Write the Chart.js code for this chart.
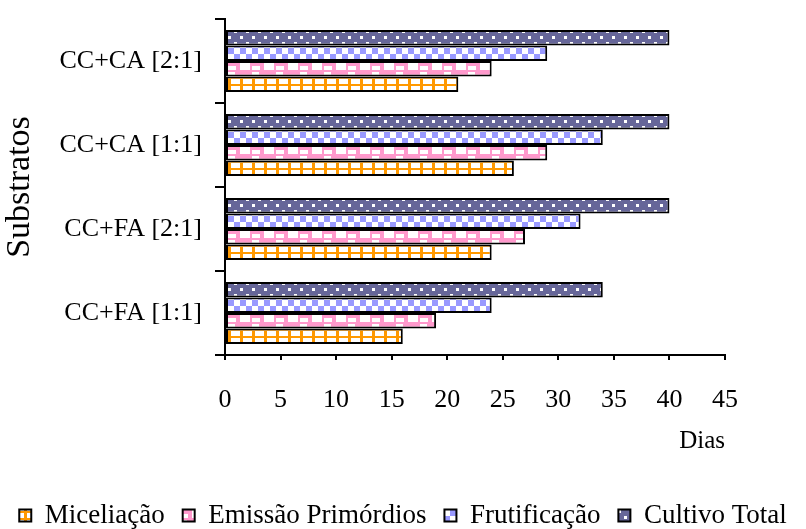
<!DOCTYPE html>
<html>
<head>
<meta charset="utf-8">
<script src="https://cdn.jsdelivr.net/npm/chart.js@4/dist/chart.umd.min.js"></script>
<style>
  body { margin: 0; background: #fff; }
  canvas { display: block; }
</style>
</head>
<body>
<canvas id="chart" width="806" height="529"></canvas>
<script>
// Substratos (top to bottom) and days per phase
const categories = ["CC+CA [2:1]", "CC+CA [1:1]", "CC+FA [2:1]", "CC+FA [1:1]"];
const miceliacao = [21, 26, 24, 16];
const emissaoPrimordios = [24, 29, 27, 19];
const frutificacao = [29, 34, 32, 24];
const cultivoTotal = [40, 40, 40, 34];
const xTicks = [0, 5, 10, 15, 20, 25, 30, 35, 40, 45];

const serif = "'Liberation Serif', 'Times New Roman', serif";

// Build a repeating fill like the old office hatch patterns
function makePattern(w, h, bg, fg, rects) {
    const tile = document.createElement("canvas");
    tile.width = w;
    tile.height = h;
    const tctx = tile.getContext("2d");
    tctx.fillStyle = bg;
    tctx.fillRect(0, 0, w, h);
    tctx.fillStyle = fg;
    rects.forEach((r) => tctx.fillRect(r[0], r[1], r[2], r[3]));
    return tctx.createPattern(tile, "repeat");
}

const orangeGrid = makePattern(12, 7, "#ffffff", "#ff9900", [[0, 0, 3, 7], [0, 0, 12, 2]]);
const pinkWeave = makePattern(24, 14, "#ff99cc", "#ffffff", [[0, 6, 10, 8], [12, 2, 7, 3], [12, 10, 8, 4]]);
const blueChecker = makePattern(12, 12, "#ffffff", "#9999ff", [[0, 0, 6, 6], [6, 6, 6, 6]]);
const navyDots = makePattern(12, 12, "#666699", "#ffffff", [[0, 0, 3, 3], [6, 6, 3, 3]]);

const canvas = document.getElementById("chart");

new Chart(canvas, {
    type: "bar",
    data: {
        labels: categories,
        datasets: [
            { label: "Cultivo Total", data: cultivoTotal, backgroundColor: navyDots },
            { label: "Frutificação", data: frutificacao, backgroundColor: blueChecker },
            { label: "Emissão Primórdios", data: emissaoPrimordios, backgroundColor: pinkWeave },
            { label: "Miceliação", data: miceliacao, backgroundColor: orangeGrid },
        ].map((ds) => Object.assign(ds, {
            borderColor: "#000000",
            borderWidth: 2,
            borderSkipped: false,
            categoryPercentage: 0.74,
            barPercentage: 1.0,
        })),
    },
    options: {
        indexAxis: "y",
        responsive: false,
        animation: false,
        layout: { padding: { top: 19, left: 0, right: 0, bottom: -10 } },
        plugins: {
            tooltip: { enabled: false },
            legend: {
                position: "bottom",
                reverse: true,
                labels: {
                    color: "#000000",
                    font: { family: serif, size: 27 },
                    boxWidth: 12,
                    boxHeight: 12,
                    padding: 18,
                },
            },
        },
        scales: {
            x: {
                min: 0,
                max: 45,
                afterBuildTicks: (scale) => {
                    scale.ticks = xTicks.map((v) => ({ value: v }));
                },
                afterFit: (scale) => {
                    scale.height = 129;
                },
                grid: {
                    drawOnChartArea: false,
                    drawTicks: true,
                    tickLength: 5,
                    color: "#000000",
                    lineWidth: 2,
                },
                border: { color: "#000000", width: 2 },
                ticks: {
                    color: "#000000",
                    font: { family: serif, size: 26 },
                    padding: 25,
                    maxRotation: 0,
                    autoSkip: false,
                },
                title: {
                    display: true,
                    text: "Dias",
                    align: "end",
                    color: "#000000",
                    font: { family: serif, size: 25 },
                    padding: { top: 0, bottom: 28 },
                },
            },
            y: {
                afterFit: (scale) => {
                    scale.width = 225;
                    // labels sit inside the bands, no extra room needed above/below
                    scale.paddingTop = 0;
                    scale.paddingBottom = 0;
                },
                grid: {
                    drawOnChartArea: false,
                    drawTicks: true,
                    tickLength: 10,
                    color: "#000000",
                    lineWidth: 2,
                },
                border: { color: "#000000", width: 2 },
                ticks: {
                    color: "#000000",
                    font: { family: serif, size: 26 },
                    padding: 13,
                },
                title: {
                    display: true,
                    text: "Substratos",
                    color: "#000000",
                    font: { family: serif, size: 34 },
                    padding: { top: 0, bottom: 0 },
                },
            },
            // empty axis on the right only to keep the plot narrow
            yRight: {
                type: "category",
                position: "right",
                afterFit: (scale) => {
                    scale.width = 81;
                    scale.paddingTop = 0;
                    scale.paddingBottom = 0;
                },
                grid: { display: false },
                border: { display: false },
                ticks: { display: false },
            },
        },
    },
});
</script>
</body>
</html>
